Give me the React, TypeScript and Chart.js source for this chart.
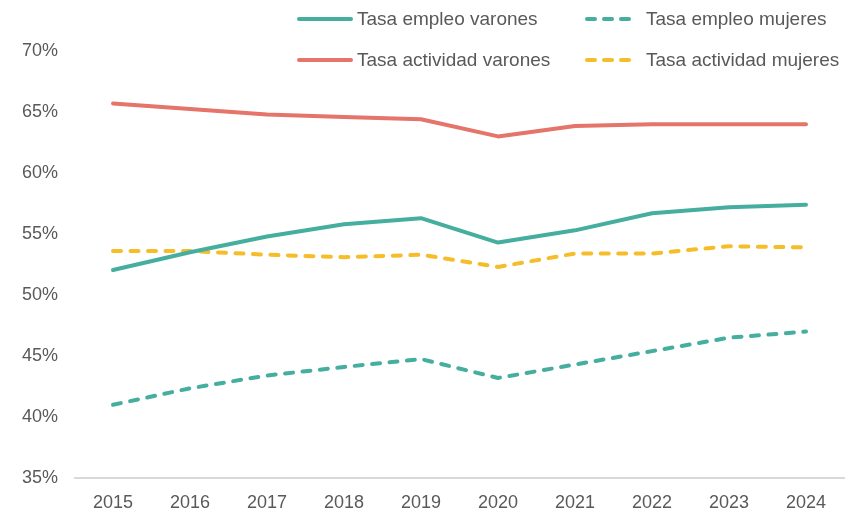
import React, { useEffect, useRef } from "react";
import { Chart, registerables } from "chart.js";

Chart.register(...registerables);

const years = ["2015", "2016", "2017", "2018", "2019", "2020", "2021", "2022", "2023", "2024"];
const empleoVarones = [52.05, 53.5, 54.8, 55.8, 56.3, 54.3, 55.3, 56.7, 57.2, 57.4];
const empleoMujeres = [41.0, 42.35, 43.4, 44.1, 44.75, 43.2, 44.3, 45.4, 46.5, 47.0];
const actividadVarones = [65.7, 65.25, 64.8, 64.6, 64.4, 63.0, 63.85, 64.0, 64.0, 64.0];
const actividadMujeres = [53.6, 53.6, 53.3, 53.1, 53.3, 52.3, 53.4, 53.4, 54.0, 53.9];

const TEAL = "#45ae9f";
const RED = "#e5746a";
const YELLOW = "#f6bd2b";
const TEXT = "#595959";
const FONT = "'Liberation Sans', Arial, sans-serif";

const legendItems = [
  { label: "Tasa empleo varones", color: TEAL, dashed: false },
  { label: "Tasa empleo mujeres", color: TEAL, dashed: true },
  { label: "Tasa actividad varones", color: RED, dashed: false },
  { label: "Tasa actividad mujeres", color: YELLOW, dashed: true },
];

export default function App() {
  const ref = useRef<HTMLCanvasElement>(null);
  useEffect(() => {
    if (!ref.current) return;
    const ds = (label: string, data: number[], color: string, dashed: boolean) => ({
      label,
      data,
      borderColor: color,
      backgroundColor: color,
      borderWidth: 4,
      borderDash: dashed ? [8, 9.5] : [],
      borderCapStyle: "round" as const,
      borderJoinStyle: "round" as const,
      pointRadius: 0,
      tension: 0,
      fill: false,
    });
    const chart = new Chart(ref.current, {
      type: "line",
      data: {
        labels: years,
        datasets: [
          ds("Tasa empleo varones", empleoVarones, TEAL, false),
          ds("Tasa empleo mujeres", empleoMujeres, TEAL, true),
          ds("Tasa actividad varones", actividadVarones, RED, false),
          ds("Tasa actividad mujeres", actividadMujeres, YELLOW, true),
        ],
      },
      options: {
        animation: false,
        responsive: false,
        layout: { padding: { top: 51, right: 18.5, left: 0, bottom: 0 } },
        plugins: { legend: { display: false }, tooltip: { enabled: false } },
        scales: {
          x: {
            offset: true,
            grid: { display: false },
            border: { display: true, color: "#d9d9d9", width: 2 },
            ticks: { color: TEXT, font: { family: FONT, size: 18 }, padding: 6 },
            afterFit: (s: any) => { s.height = 34; },
          },
          y: {
            min: 35,
            max: 70,
            grid: { display: false },
            border: { display: false },
            ticks: {
              stepSize: 5,
              color: TEXT,
              font: { family: FONT, size: 18 },
              padding: 8.5,
              callback: (v: any) => v + "%",
            },
            afterFit: (s: any) => { s.width = 74.5; },
          },
        },
      },
    });
    return () => chart.destroy();
  }, []);

  return (
    <div style={{ position: "absolute", left: 0, top: 0, width: 863, height: 512, background: "#fff", fontFamily: FONT }}>
      <canvas ref={ref} width={863} height={512} style={{ display: "block" }} />
      {legendItems.map((it, i) => {
        const col = i % 2;
        const row = Math.floor(i / 2);
        const left = col === 0 ? 297 : 585;
        const top = row === 0 ? 19 : 60;
        return (
          <div key={it.label} style={{ position: "absolute", left, top: top - 12, height: 24, display: "flex", alignItems: "center", whiteSpace: "nowrap" }}>
            <svg width={col === 0 ? 56 : 52} height={6} style={{ marginRight: col === 0 ? 4 : 9 }}>
              {it.dashed ? (
                <line x1={2} y1={3} x2={50} y2={3} stroke={it.color} strokeWidth={4}
                  strokeDasharray="8 9" strokeLinecap="round" />
              ) : (
                <line x1={2} y1={3} x2={54} y2={3} stroke={it.color} strokeWidth={4} strokeLinecap="round" />
              )}
            </svg>
            <span style={{ color: TEXT, fontSize: 19 }}>{it.label}</span>
          </div>
        );
      })}
    </div>
  );
}
